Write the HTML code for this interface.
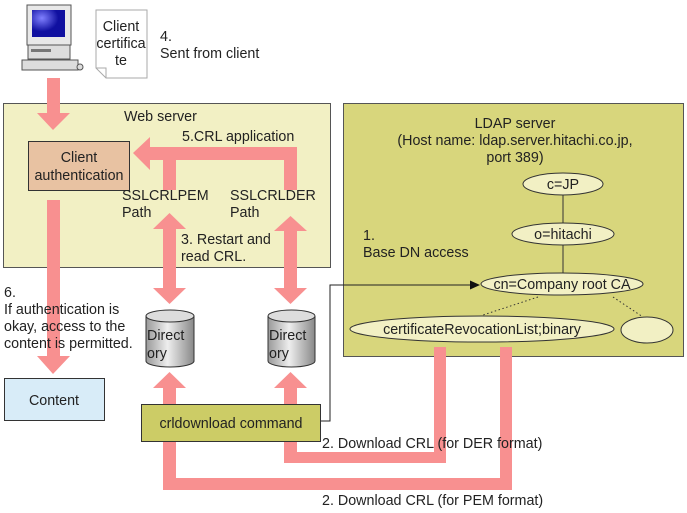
<!DOCTYPE html>
<html><head><style>body{margin:0;background:#fff}svg{display:block}text{font-family:"Liberation Sans",sans-serif;font-size:14.3px;fill:#222}</style></head><body>
<svg width="687" height="513" viewBox="0 0 687 513" xmlns="http://www.w3.org/2000/svg">
<defs><linearGradient id="cyl" x1="0" x2="1"><stop offset="0" stop-color="#999"/><stop offset=".45" stop-color="#eee"/><stop offset="1" stop-color="#888"/></linearGradient>
<radialGradient id="scr" cx=".3" cy=".3"><stop offset="0" stop-color="#8080ff"/><stop offset="1" stop-color="#1010a0"/></radialGradient></defs>
<!-- computer -->
<rect x="27" y="5" width="44" height="40" fill="#e8e8e8" stroke="#555"/>
<rect x="32" y="10" width="33" height="27" fill="url(#scr)"/>
<rect x="28" y="45" width="42" height="14" fill="#ddd" stroke="#555"/>
<rect x="31" y="49" width="20" height="3" fill="#777"/>
<rect x="22" y="60" width="56" height="10" fill="#ddd" stroke="#555"/>
<circle cx="80" cy="67" r="3" fill="#ddd" stroke="#555"/>
<!-- certificate doc -->
<path d="M96 10 H147 V78 H106 L96 68 Z" fill="#fff" stroke="#aaa"/>
<path d="M96 68 L106 68 L106 78" fill="none" stroke="#aaa"/>
<text x="121" y="31" text-anchor="middle">Client</text><text x="121" y="48" text-anchor="middle">certifica</text><text x="121" y="65" text-anchor="middle">te</text>
<text x="160" y="41">4.</text><text x="160" y="58">Sent from client</text>
<!-- web server -->
<rect x="3.5" y="103.5" width="327" height="164" fill="#f2f0c4" stroke="#555"/>
<text x="124" y="121">Web server</text>
<text x="182" y="141">5.CRL application</text>
<!-- LDAP -->
<rect x="343.5" y="103.5" width="340" height="253" fill="#d8d67c" stroke="#555"/>
<text x="515" y="128" text-anchor="middle">LDAP server</text>
<text x="515" y="145" text-anchor="middle">(Host name: ldap.server.hitachi.co.jp,</text>
<text x="515" y="162" text-anchor="middle">port 389)</text>
<text x="363" y="240">1.</text><text x="363" y="257">Base DN access</text>
<line x1="563" y1="195" x2="563" y2="223" stroke="#333"/>
<line x1="563" y1="245" x2="563" y2="273" stroke="#333"/>
<line x1="538" y1="297" x2="483" y2="315" stroke="#333" stroke-dasharray="1.5 2.5"/>
<line x1="613" y1="297" x2="643" y2="317" stroke="#333" stroke-dasharray="1.5 2.5"/>
<ellipse cx="563" cy="184" rx="40" ry="11" fill="#f2f0c4" stroke="#333"/>
<text x="563" y="189" text-anchor="middle">c=JP</text>
<ellipse cx="563" cy="234" rx="51" ry="11" fill="#f2f0c4" stroke="#333"/>
<text x="563" y="239" text-anchor="middle">o=hitachi</text>
<ellipse cx="562" cy="284" rx="81" ry="11" fill="#f2f0c4" stroke="#333"/>
<text x="562" y="289" text-anchor="middle">cn=Company root CA</text>
<ellipse cx="482" cy="329" rx="132" ry="13" fill="#f2f0c4" stroke="#333"/>
<text x="482" y="334" text-anchor="middle">certificateRevocationList;binary</text>
<ellipse cx="647" cy="330" rx="26" ry="13" fill="#f2f0c4" stroke="#333"/>
<!-- pink arrows -->
<g fill="#f89090">
<rect x="47" y="78" width="13" height="36"/><polygon points="37,113 70,113 53,130"/>
<rect x="47" y="200" width="13" height="158"/><polygon points="37,356 70,356 53,374"/>
<rect x="150" y="147" width="147" height="13"/><polygon points="150,137 150,170 133,153"/>
<rect x="163" y="147" width="13" height="43"/><rect x="284" y="147" width="13" height="43"/>
<rect x="163" y="228" width="13" height="62"/><polygon points="153,229 186,229 169.5,213"/><polygon points="153,288 186,288 169.5,304"/>
<rect x="284" y="230" width="13" height="60"/><polygon points="274,231 307,231 290.5,216"/><polygon points="274,288 307,288 290.5,304"/>
<rect x="163" y="387" width="13" height="18"/><polygon points="153,388 186,388 169.5,372"/>
<rect x="284" y="387" width="13" height="18"/><polygon points="274,388 307,388 290.5,372"/>
<path d="M434 347 H446 V463 H284 V441 H297 V452 H434 Z"/>
<path d="M500 347 H512 V490 H163 V441 H176 V478 H500 Z"/>
</g>
<rect x="28.5" y="141.5" width="101" height="49" fill="#e8c2a2" stroke="#333"/>
<text x="79" y="162" text-anchor="middle">Client</text><text x="79" y="180" text-anchor="middle">authentication</text>
<text x="122" y="200">SSLCRLPEM</text><text x="122" y="217">Path</text>
<text x="230" y="200">SSLCRLDER</text><text x="230" y="217">Path</text>
<text x="181" y="244">3. Restart and</text><text x="181" y="261">read CRL.</text>
<text x="4" y="297">6.</text><text x="4" y="314">If authentication is</text><text x="4" y="331">okay, access to the</text><text x="4" y="348">content is permitted.</text>
<rect x="4.5" y="378.5" width="100" height="42" fill="#d8ecf8" stroke="#333"/>
<text x="54" y="405" text-anchor="middle">Content</text>
<!-- cylinders -->
<g stroke="#333">
<path d="M146 316 V361 A24 6 0 0 0 194 361 V316" fill="url(#cyl)"/><ellipse cx="170" cy="316" rx="24" ry="6" fill="#ddd"/>
<path d="M268 316 V361 A23.5 6 0 0 0 315 361 V316" fill="url(#cyl)"/><ellipse cx="291.5" cy="316" rx="23.5" ry="6" fill="#ddd"/>
</g>
<text x="147" y="340">Direct</text><text x="147" y="358">ory</text>
<text x="269" y="340">Direct</text><text x="269" y="358">ory</text>
<!-- crldownload -->
<rect x="141.5" y="404.5" width="179" height="37" fill="#cccc66" stroke="#333"/>
<text x="231" y="428" text-anchor="middle">crldownload command</text>
<path d="M321 421 H330 V285 H472" fill="none" stroke="#222"/>
<polygon points="480,285 470,280.5 470,289.5" fill="#111"/>
<text x="322" y="448">2. Download CRL (for DER format)</text>
<text x="322" y="505">2. Download CRL (for PEM format)</text>
</svg>
</body></html>
